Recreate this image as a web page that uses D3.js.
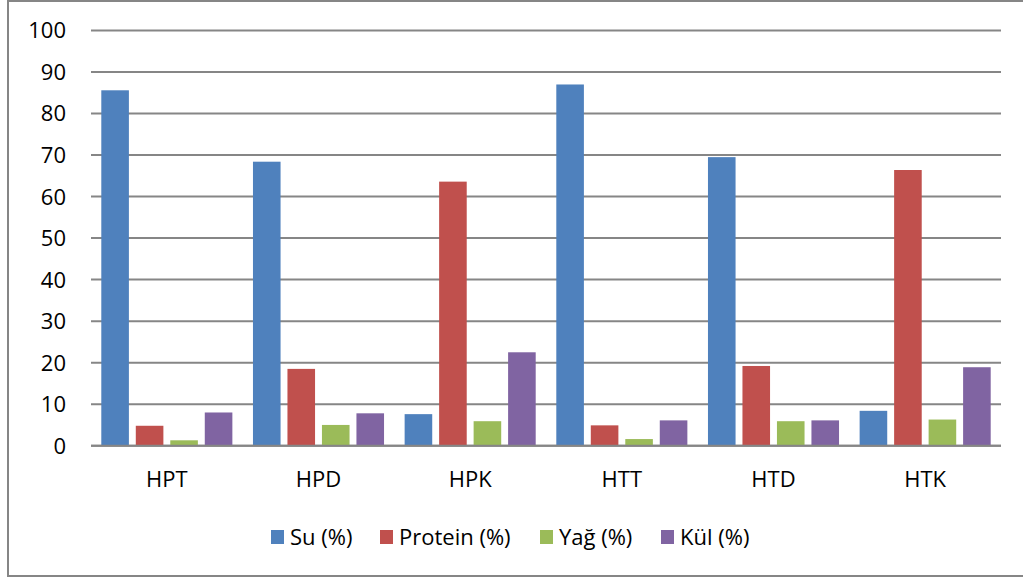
<!DOCTYPE html>
<html>
<head>
<meta charset="utf-8">
<script src="https://cdn.jsdelivr.net/npm/d3@7"></script>
<style>
  html, body { margin: 0; padding: 0; background: #fff; }
  svg { display: block; font-family: "Open Sans", Lato, sans-serif; }
</style>
</head>
<body>
<svg id="chart" width="1023" height="578"></svg>
<script>
const categories = ["HPT", "HPD", "HPK", "HTT", "HTD", "HTK"];
const seriesNames = ["Su (%)", "Protein (%)", "Yağ (%)", "Kül (%)"];
const su      = [85.6, 68.4, 7.6, 87.0, 69.5, 8.4];
const protein = [4.8, 18.5, 63.6, 4.9, 19.2, 66.4];
const yag     = [1.3, 5.0, 5.9, 1.6, 5.9, 6.3];
const kul     = [8.0, 7.8, 22.5, 6.1, 6.1, 18.9];
const yTicks  = [0, 10, 20, 30, 40, 50, 60, 70, 80, 90, 100];
const colors  = ["#4f81bd", "#c0504d", "#9bbb59", "#8064a2"];

const seriesValues = [su, protein, yag, kul];

const svg = d3.select("#chart");

// chart frame
svg.append("rect")
  .attr("x", 8).attr("y", 1)
  .attr("width", 1030).attr("height", 575)
  .attr("fill", "#fff").attr("stroke", "#868686").attr("stroke-width", 2);

const plotLeft = 91, plotRight = 1001, plotTop = 30.5, plotBottom = 445.7;

const y = d3.scaleLinear().domain([0, 100]).range([plotBottom, plotTop]);
const x0 = d3.scaleBand().domain(categories).range([plotLeft, plotRight]).padding(0);
const groupW = x0.bandwidth();
const outerGap = 10.3;
const x1 = d3.scaleBand().domain(seriesNames)
  .range([outerGap, groupW - outerGap]).paddingInner(0.2).paddingOuter(0);

// gridlines
svg.append("g").selectAll("line").data(yTicks).join("line")
  .attr("x1", plotLeft).attr("x2", plotRight)
  .attr("y1", d => y(d)).attr("y2", d => y(d))
  .attr("stroke", "#868686").attr("stroke-width", 2);

// y labels
svg.append("g").selectAll("text").data(yTicks).join("text")
  .attr("x", 66).attr("y", d => y(d))
  .attr("dy", "0.36em")
  .attr("text-anchor", "end")
  .attr("font-size", 22).attr("fill", "#000")
  .text(d => d);

// bars
const groups = svg.append("g").selectAll("g").data(categories).join("g")
  .attr("transform", c => `translate(${x0(c)},0)`);

groups.selectAll("rect")
  .data((c, i) => seriesNames.map((s, j) => ({ s, j, v: seriesValues[j][i] })))
  .join("rect")
  .attr("x", d => x1(d.s))
  .attr("width", x1.bandwidth())
  .attr("y", d => y(d.v))
  .attr("height", d => y(0) - y(d.v))
  .attr("fill", d => colors[d.j]);

// baseline axis
svg.append("line")
  .attr("x1", plotLeft).attr("x2", plotRight)
  .attr("y1", y(0)).attr("y2", y(0))
  .attr("stroke", "#868686").attr("stroke-width", 2);

// category labels
svg.append("g").selectAll("text").data(categories).join("text")
  .attr("x", c => x0(c) + groupW / 2)
  .attr("y", 487)
  .attr("text-anchor", "middle")
  .attr("font-size", 22).attr("fill", "#000")
  .text(c => c);

// legend
const legendX = [271, 380, 540, 661];
const legend = svg.append("g").selectAll("g").data(seriesNames).join("g")
  .attr("transform", (d, i) => `translate(${legendX[i]},530)`);
legend.append("rect")
  .attr("width", 13).attr("height", 14)
  .attr("fill", (d, i) => colors[i]);
legend.append("text")
  .attr("x", 19).attr("y", 15)
  .attr("font-size", 22).attr("fill", "#000")
  .text(d => d);
</script>
</body>
</html>
